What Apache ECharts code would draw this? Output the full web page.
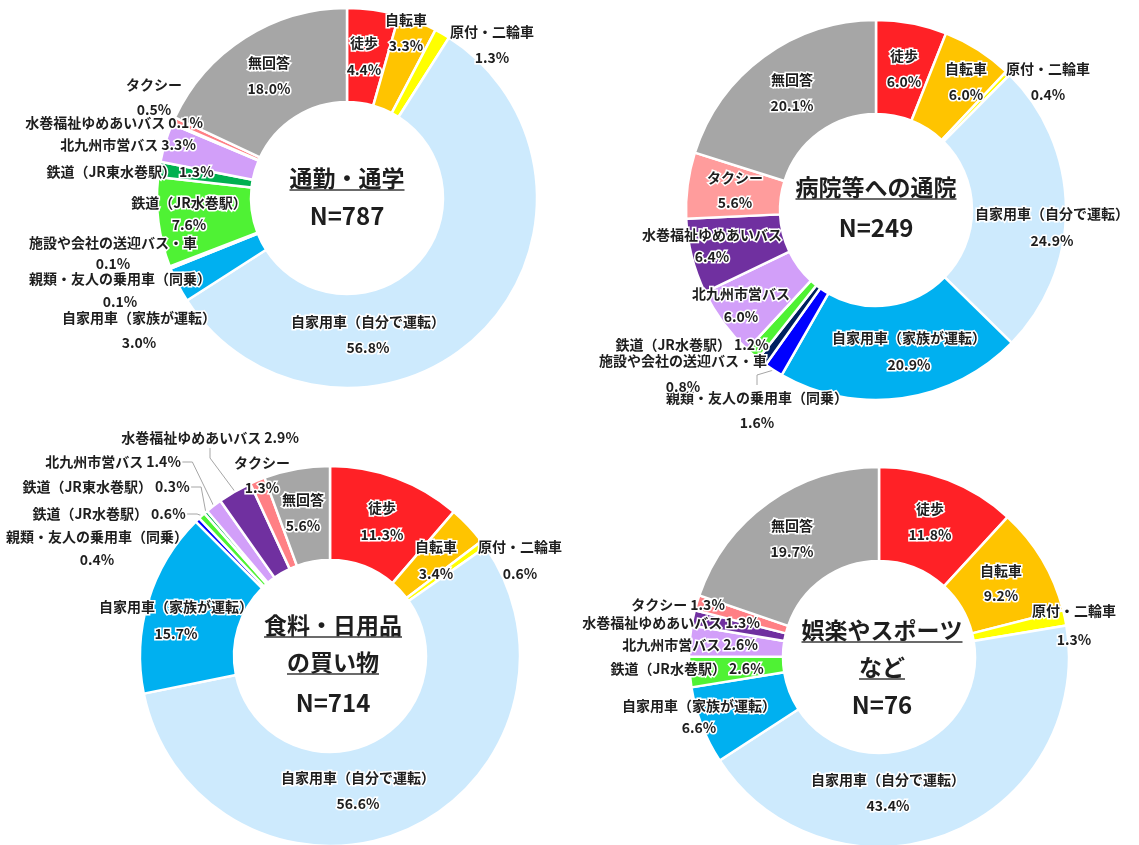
<!DOCTYPE html>
<html>
<head>
<meta charset="utf-8">
<script src="https://cdn.jsdelivr.net/npm/echarts@6/dist/echarts.min.js"></script>
<style>
  html, body { margin: 0; padding: 0; background: #ffffff; }
  #chart { width: 1139px; height: 845px; }
</style>
</head>
<body>
<div id="chart"></div>
<script>
// ---- Data: share (%) of each means of transport, by trip purpose ----
const commuteNames = ['徒歩', '自転車', '原付・二輪車', '自家用車（自分で運転）', '自家用車（家族が運転）',
  '親類・友人の乗用車（同乗）', '施設や会社の送迎バス・車', '鉄道（JR水巻駅）', '鉄道（JR東水巻駅）',
  '北九州市営バス', '水巻福祉ゆめあいバス', 'タクシー', '無回答'];
const commuteValues = [4.4, 3.3, 1.3, 56.8, 3.0, 0.1, 0.1, 7.6, 1.3, 3.3, 0.1, 0.5, 18.0];

const hospitalNames = ['徒歩', '自転車', '原付・二輪車', '自家用車（自分で運転）', '自家用車（家族が運転）',
  '親類・友人の乗用車（同乗）', '施設や会社の送迎バス・車', '鉄道（JR水巻駅）',
  '北九州市営バス', '水巻福祉ゆめあいバス', 'タクシー', '無回答'];
const hospitalValues = [6.0, 6.0, 0.4, 24.9, 20.9, 1.6, 0.8, 1.2, 6.0, 6.4, 5.6, 20.1];

const shoppingNames = ['徒歩', '自転車', '原付・二輪車', '自家用車（自分で運転）', '自家用車（家族が運転）',
  '親類・友人の乗用車（同乗）', '鉄道（JR水巻駅）', '鉄道（JR東水巻駅）',
  '北九州市営バス', '水巻福祉ゆめあいバス', 'タクシー', '無回答'];
const shoppingValues = [11.3, 3.4, 0.6, 56.6, 15.7, 0.4, 0.6, 0.3, 1.4, 2.9, 1.3, 5.6];

const leisureNames = ['徒歩', '自転車', '原付・二輪車', '自家用車（自分で運転）', '自家用車（家族が運転）',
  '鉄道（JR水巻駅）', '北九州市営バス', '水巻福祉ゆめあいバス', 'タクシー', '無回答'];
const leisureValues = [11.8, 9.2, 1.3, 43.4, 6.6, 2.6, 2.6, 1.3, 1.3, 19.7];

const titleLines = [['通勤・通学'], ['病院等への通院'], ['食料・日用品', 'の買い物'], ['娯楽やスポーツ', 'など']];
const sampleSizes = [787, 249, 714, 76];

// ---- Styles ----
const FONT = '"Noto Sans CJK JP", "Noto Sans", sans-serif';
const colorOf = {
  '徒歩': '#ff2126',
  '自転車': '#ffc400',
  '原付・二輪車': '#ffff00',
  '自家用車（自分で運転）': '#cdeafd',
  '自家用車（家族が運転）': '#00b0f0',
  '親類・友人の乗用車（同乗）': '#0000ff',
  '施設や会社の送迎バス・車': '#002060',
  '鉄道（JR水巻駅）': '#4ff234',
  '鉄道（JR東水巻駅）': '#00b050',
  '北九州市営バス': '#d29ff9',
  '水巻福祉ゆめあいバス': '#7030a0',
  'タクシー': '#ff8085',
  '無回答': '#a6a6a6'
};
const taxiColorHospital = '#ff9c9c';

// Per-chart pie geometry and label placement: [x, y, lines, lineHeight, leaderLine]
const layouts = [
  {
    center: [347, 198], radius: [96, 190], title: { x: 347, ys: [178], n: 216 },
    labels: {
      '徒歩': [364, 56, 2, 27],
      '自転車': [406, 33, 2, 26],
      '原付・二輪車': [492, 45, 2, 26],
      '自家用車（自分で運転）': [368, 335, 2, 26],
      '自家用車（家族が運転）': [139, 330, 2, 25],
      '親類・友人の乗用車（同乗）': [120, 290, 2, 23],
      '施設や会社の送迎バス・車': [113, 253, 2, 21],
      '鉄道（JR水巻駅）': [189, 214, 2, 22],
      '鉄道（JR東水巻駅）': [130, 172, 1],
      '北九州市営バス': [128, 145, 1],
      '水巻福祉ゆめあいバス': [114, 123, 1],
      'タクシー': [154, 97, 2, 25],
      '無回答': [269, 76, 2, 26]
    }
  },
  {
    center: [876, 210], radius: [96, 190], title: { x: 876, ys: [187], n: 228 },
    labels: {
      '徒歩': [904, 69, 2, 26],
      '自転車': [966, 82, 2, 26],
      '原付・二輪車': [1048, 82, 2, 26],
      '自家用車（自分で運転）': [1052, 227, 2, 27],
      '自家用車（家族が運転）': [909, 351, 2, 27],
      '親類・友人の乗用車（同乗）': [757, 410, 2, 25, true],
      '施設や会社の送迎バス・車': [683, 374, 2, 26],
      '鉄道（JR水巻駅）': [692, 345, 1],
      '北九州市営バス': [741, 305, 2, 23],
      '水巻福祉ゆめあいバス': [712, 246, 2, 22],
      'タクシー': [735, 190, 2, 25],
      '無回答': [792, 93, 2, 26]
    }
  },
  {
    center: [330, 656], radius: [96, 190], title: { x: 333, ys: [625, 662], n: 703 },
    labels: {
      '徒歩': [382, 521, 2, 27],
      '自転車': [436, 560, 2, 27],
      '原付・二輪車': [520, 560, 2, 27],
      '自家用車（自分で運転）': [358, 791, 2, 26],
      '自家用車（家族が運転）': [176, 620, 2, 27],
      '親類・友人の乗用車（同乗）': [97, 548, 2, 23],
      '鉄道（JR水巻駅）': [109, 514, 1, 20, true],
      '鉄道（JR東水巻駅）': [106, 487, 1, 20, true],
      '北九州市営バス': [113, 462, 1, 20, true],
      '水巻福祉ゆめあいバス': [210, 438, 1, 20, true],
      'タクシー': [262, 475, 2, 25],
      '無回答': [303, 513, 2, 26]
    }
  },
  {
    center: [879, 657], radius: [96, 190], title: { x: 882, ys: [630, 667], n: 705 },
    labels: {
      '徒歩': [930, 522, 2, 26],
      '自転車': [1001, 583, 2, 25],
      '原付・二輪車': [1074, 625, 2, 29],
      '自家用車（自分で運転）': [888, 793, 2, 26],
      '自家用車（家族が運転）': [699, 717, 2, 22],
      '鉄道（JR水巻駅）': [687, 669, 1],
      '北九州市営バス': [690, 645, 1],
      '水巻福祉ゆめあいバス': [671, 623, 1],
      'タクシー': [678, 605, 1],
      '無回答': [792, 539, 2, 26]
    }
  }
];

const charts = [
  [commuteNames, commuteValues],
  [hospitalNames, hospitalValues],
  [shoppingNames, shoppingValues],
  [leisureNames, leisureValues]
];

function pct(v) { return v.toFixed(1) + '%'; }

const series = charts.map(([names, values], ci) => {
  const lay = layouts[ci];
  return {
    type: 'pie',
    center: lay.center,
    radius: lay.radius,
    startAngle: 90,
    clockwise: true,
    avoidLabelOverlap: false,
    silent: true,
    itemStyle: { borderColor: '#ffffff', borderWidth: 2.5 },
    label: {
      show: true,
      position: 'outside',
      fontFamily: FONT,
      fontSize: 14,
      fontWeight: 'bold',
      color: '#1e1e1e',
      textBorderColor: '#ffffff',
      textBorderWidth: 3,
      formatter: (p) => {
        const spec = lay.labels[p.name];
        return spec && spec[2] === 1 ? p.name + ' ' + pct(p.value) : p.name + '\n' + pct(p.value);
      }
    },
    labelLine: { show: false, lineStyle: { color: '#a6a6a6', width: 1 }, length: 10, length2: 10 },
    labelLayout: (params) => {
      const spec = lay.labels[names[params.dataIndex]];
      if (!spec) return {};
      return { x: spec[0], y: spec[1], align: 'center', verticalAlign: 'middle', hideOverlap: false };
    },
    data: names.map((n, i) => {
      const spec = lay.labels[n] || [];
      let color = colorOf[n];
      if (ci === 1 && n === 'タクシー') color = taxiColorHospital;
      return {
        name: n,
        value: values[i],
        itemStyle: { color },
        label: { lineHeight: spec[3] || 25 },
        labelLine: { show: !!spec[4] }
      };
    })
  };
});

// Centre captions: underlined purpose title plus sample size
const measureCtx = document.createElement('canvas').getContext('2d');
const titleFont = 'bold 23px ' + FONT;
measureCtx.font = titleFont;
const graphics = [];
layouts.forEach((lay, ci) => {
  titleLines[ci].forEach((line, li) => {
    const y = lay.title.ys[li];
    graphics.push({
      type: 'text', x: lay.title.x, y: y, silent: true,
      style: { text: line, font: titleFont, fill: '#1e1e1e', align: 'center', verticalAlign: 'middle' }
    });
    const w = measureCtx.measureText(line).width;
    graphics.push({
      type: 'line', silent: true,
      shape: { x1: lay.title.x - w / 2, y1: y + 12, x2: lay.title.x + w / 2, y2: y + 12 },
      style: { stroke: '#3a3a3a', lineWidth: 1.5 }
    });
  });
  graphics.push({
    type: 'text', x: lay.title.x, y: lay.title.n, silent: true,
    style: { text: 'N=' + sampleSizes[ci], font: 'bold 24px ' + FONT, fill: '#1e1e1e', align: 'center', verticalAlign: 'middle' }
  });
});

const chart = echarts.init(document.getElementById('chart'), null, { renderer: 'canvas' });
chart.setOption({
  backgroundColor: '#ffffff',
  animation: false,
  series: series,
  graphic: graphics
});
</script>
</body>
</html>
